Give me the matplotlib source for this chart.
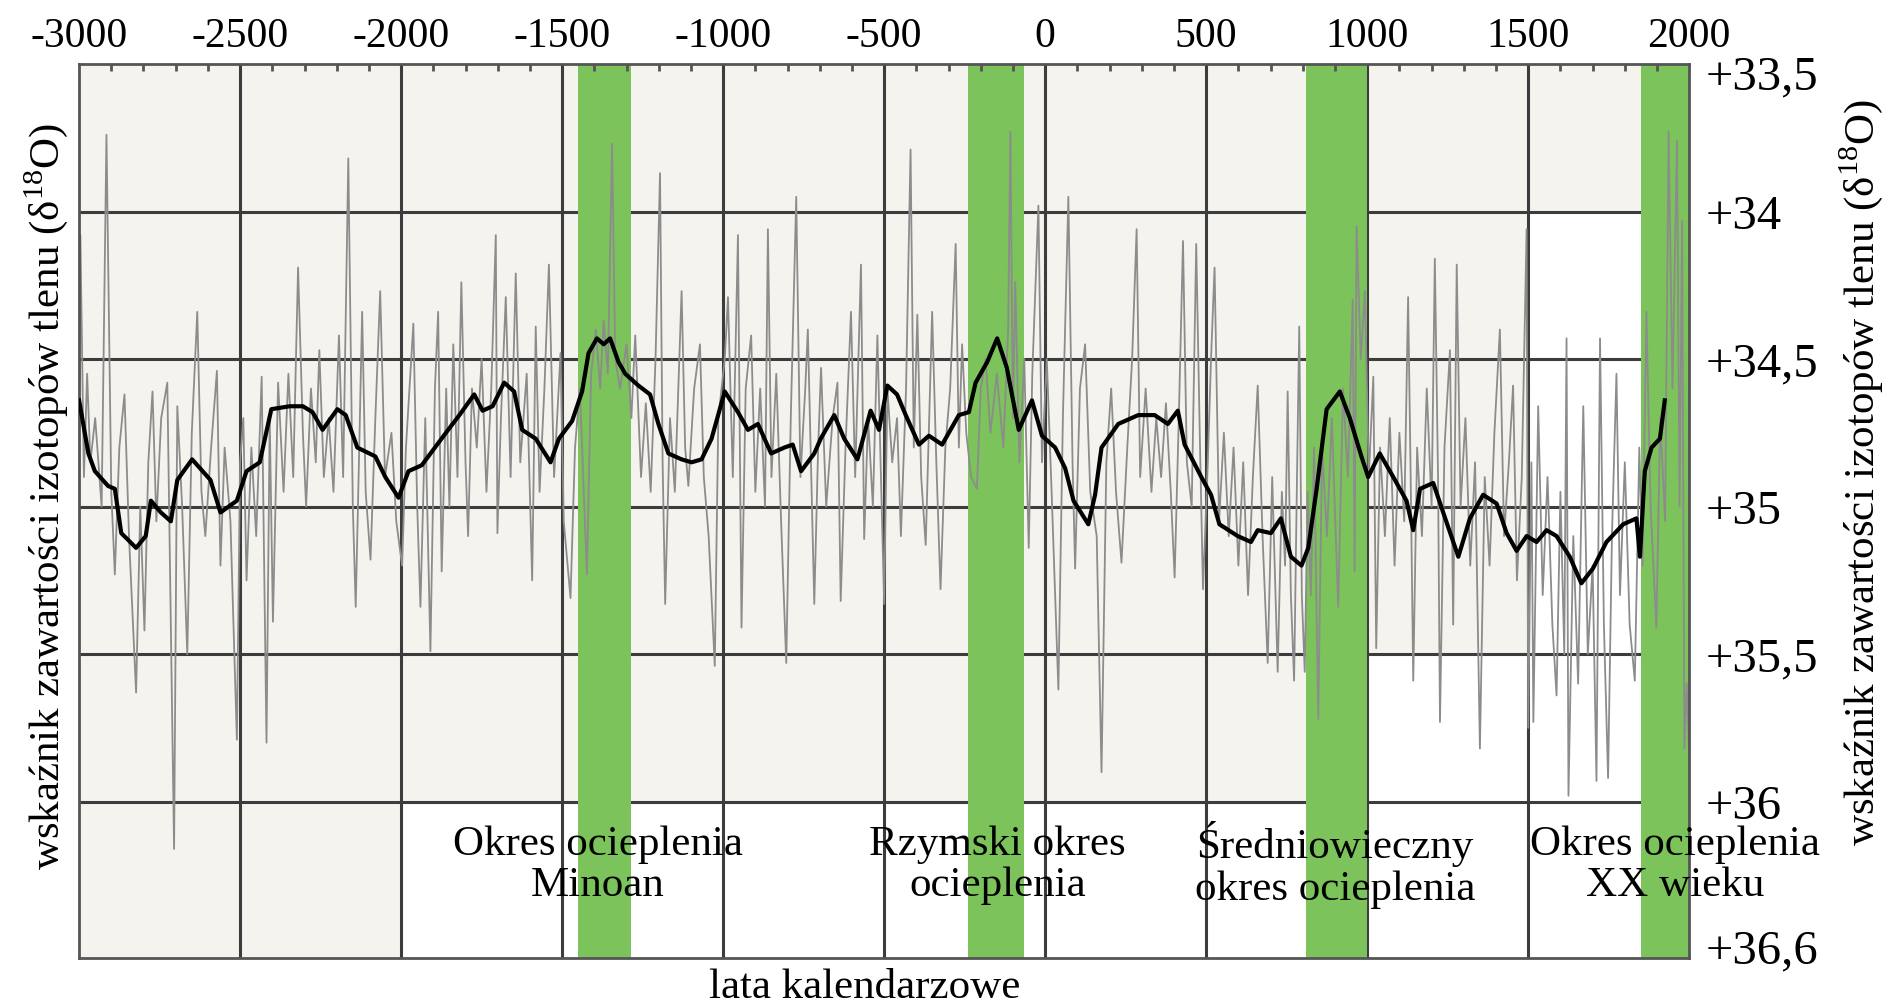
import matplotlib.pyplot as plt
from matplotlib.patches import Rectangle

plt.rcParams['font.family'] = ['Liberation Serif', 'DejaVu Serif']
plt.rcParams['mathtext.fontset'] = 'custom'
plt.rcParams['mathtext.rm'] = 'Liberation Serif'

# smoothed curve (black)
smooth_years = [-3000, -2971, -2951, -2910, -2889, -2869, -2823, -2793, -2777, -2746,
                -2715, -2695, -2649, -2592, -2561, -2510, -2480, -2439, -2403, -2346,
                -2305, -2275, -2244, -2198, -2172, -2136, -2080, -2049, -2008, -1977,
                -1936, -1895, -1854, -1819, -1773, -1747, -1716, -1680, -1649, -1624,
                -1582, -1536, -1510, -1469, -1438, -1418, -1392, -1371, -1351, -1325,
                -1304, -1263, -1227, -1201, -1170, -1129, -1098, -1067, -1036, -995,
                -954, -923, -892, -851, -810, -784, -758, -717, -697, -655,
                -624, -583, -542, -516, -490, -460, -433, -392, -361, -320,
                -268, -237, -216, -180, -149, -119, -82, -41, -10, 31,
                62, 88, 134, 155, 175, 227, 289, 340, 381, 412,
                433, 485, 515, 541, 598, 639, 660, 701, 732, 763,
                796, 817, 843, 874, 915, 946, 982, 1003, 1039, 1081,
                1122, 1143, 1164, 1205, 1236, 1283, 1319, 1360, 1402, 1433,
                1464, 1495, 1526, 1557, 1588, 1629, 1665, 1701, 1743, 1795,
                1836, 1847, 1862, 1883, 1909, 1924]
smooth_vals = [34.64, 34.82, 34.88, 34.93, 34.94, 35.09, 35.14, 35.10, 34.98, 35.02,
               35.05, 34.91, 34.84, 34.91, 35.02, 34.98, 34.88, 34.85, 34.67, 34.66,
               34.66, 34.68, 34.74, 34.67, 34.69, 34.80, 34.83, 34.90, 34.97, 34.88,
               34.86, 34.80, 34.74, 34.69, 34.62, 34.675, 34.66, 34.58, 34.61, 34.74,
               34.77, 34.85, 34.77, 34.71, 34.61, 34.48, 34.43, 34.45, 34.43, 34.51,
               34.55, 34.59, 34.62, 34.72, 34.82, 34.84, 34.85, 34.84, 34.77, 34.61,
               34.68, 34.74, 34.72, 34.82, 34.80, 34.79, 34.88, 34.82, 34.77, 34.69,
               34.77, 34.84, 34.675, 34.74, 34.59, 34.62, 34.69, 34.79, 34.76, 34.79,
               34.69, 34.68, 34.58, 34.51, 34.43, 34.53, 34.74, 34.64, 34.76, 34.80,
               34.87, 34.98, 35.06, 34.96, 34.80, 34.72, 34.69, 34.69, 34.72, 34.675,
               34.79, 34.90, 34.96, 35.06, 35.10, 35.12, 35.08, 35.09, 35.04, 35.17,
               35.20, 35.14, 34.94, 34.67, 34.61, 34.70, 34.83, 34.90, 34.82, 34.90,
               34.98, 35.08, 34.94, 34.92, 35.02, 35.17, 35.04, 34.96, 34.99, 35.09,
               35.15, 35.10, 35.12, 35.08, 35.10, 35.17, 35.26, 35.21, 35.12, 35.06,
               35.04, 35.17, 34.88, 34.80, 34.77, 34.64]

# annual record (grey), peaks and troughs
raw_years = [-3000, -2996, -2985, -2975, -2965, -2950, -2930, -2915, -2900, -2889,
             -2875, -2859, -2845, -2823, -2810, -2797, -2785, -2772, -2760, -2745,
             -2726, -2705, -2695, -2680, -2664, -2650, -2633, -2620, -2608, -2590,
             -2572, -2561, -2548, -2530, -2510, -2500, -2490, -2480, -2465, -2450,
             -2433, -2418, -2408, -2398, -2382, -2365, -2350, -2335, -2320, -2305,
             -2295, -2280, -2265, -2254, -2240, -2225, -2210, -2193, -2180, -2164,
             -2150, -2141, -2130, -2121, -2110, -2095, -2080, -2065, -2050, -2030,
             -2015, -1997, -1985, -1962, -1950, -1940, -1925, -1909, -1895, -1885,
             -1874, -1860, -1850, -1838, -1825, -1813, -1800, -1792, -1780, -1765,
             -1750, -1735, -1720, -1706, -1701, -1690, -1675, -1660, -1644, -1630,
             -1610, -1593, -1582, -1570, -1555, -1541, -1525, -1505, -1495, -1474,
             -1460, -1445, -1423, -1410, -1395, -1382, -1371, -1358, -1345, -1335,
             -1320, -1300, -1285, -1273, -1255, -1240, -1225, -1210, -1196, -1188,
             -1180, -1165, -1150, -1129, -1118, -1108, -1090, -1072, -1060, -1045,
             -1026, -1015, -995, -985, -970, -954, -943, -930, -913, -900,
             -885, -870, -861, -850, -835, -820, -804, -790, -773, -760,
             -745, -737, -717, -705, -696, -680, -660, -645, -635, -620,
             -603, -590, -572, -562, -550, -535, -521, -510, -500, -490,
             -475, -460, -448, -432, -418, -408, -397, -385, -371, -360,
             -351, -338, -325, -310, -295, -278, -268, -258, -245, -230,
             -212, -200, -185, -170, -150, -130, -115, -108, -100, -93,
             -80, -65, -51, -40, -21, -10, 5, 20, 41, 55,
             72, 85, 93, 108, 124, 140, 160, 175, 190, 205,
             220, 237, 255, 270, 284, 295, 312, 330, 345, 360,
             375, 390, 402, 415, 428, 440, 455, 469, 480, 490,
             505, 515, 526, 540, 555, 570, 585, 600, 615, 630,
             645, 660, 675, 691, 705, 722, 735, 745, 753, 763,
             773, 782, 789, 797, 806, 815, 825, 835, 848, 860,
             875, 890, 910, 925, 940, 955, 961, 967, 980, 993,
             1005, 1019, 1028, 1040, 1055, 1070, 1085, 1100, 1115, 1127,
             1135, 1143, 1155, 1170, 1185, 1200, 1210, 1220, 1226, 1240,
             1257, 1267, 1278, 1290, 1305, 1320, 1335, 1350, 1365, 1380,
             1395, 1412, 1425, 1440, 1453, 1465, 1480, 1495, 1500, 1510,
             1516, 1531, 1545, 1560, 1575, 1588, 1600, 1612, 1619, 1625,
             1640, 1655, 1671, 1685, 1700, 1712, 1723, 1735, 1748, 1760,
             1774, 1785, 1800, 1815, 1831, 1845, 1855, 1867, 1880, 1898,
             1910, 1925, 1936, 1948, 1962, 1970, 1978, 1985, 1992, 2000]
raw_vals = [34.60, 34.08, 34.90, 34.55, 34.85, 34.70, 35.00, 33.74, 34.95, 35.23,
            34.80, 34.62, 35.10, 35.63, 35.00, 35.42, 34.85, 34.61, 35.05, 34.70,
            34.58, 36.16, 34.66, 35.00, 35.50, 34.75, 34.34, 34.95, 35.10, 34.80,
            34.54, 35.20, 34.80, 35.05, 35.79, 34.85, 34.70, 35.25, 34.80, 35.10,
            34.56, 35.80, 34.70, 35.39, 34.58, 34.95, 34.55, 34.90, 34.19, 34.75,
            35.00, 34.60, 34.85, 34.47, 34.90, 34.70, 34.95, 34.42, 34.90, 33.82,
            35.00, 35.34, 34.80, 34.34, 34.95, 35.18, 34.70, 34.27, 34.90, 34.75,
            35.05, 35.20, 34.80, 34.38, 35.00, 35.34, 34.70, 35.49, 34.60, 34.34,
            35.22, 34.60, 35.00, 34.45, 34.90, 34.24, 34.85, 35.10, 34.60, 34.80,
            34.50, 34.95, 34.60, 34.08, 35.09, 34.70, 34.29, 34.90, 34.21, 34.85,
            34.55, 35.25, 34.39, 34.95, 34.60, 34.18, 34.90, 34.48, 35.05, 35.31,
            34.80, 34.60, 35.23, 34.55, 34.40, 34.60, 34.37, 34.55, 33.77, 34.50,
            34.60, 34.45, 34.70, 34.42, 34.90, 34.65, 34.95, 34.50, 33.87, 34.85,
            35.33, 34.70, 34.95, 34.27, 34.80, 34.93, 34.60, 34.45, 34.90, 35.10,
            35.54, 34.70, 34.50, 34.29, 34.90, 34.08, 35.41, 34.60, 34.42, 34.95,
            34.60, 35.00, 34.06, 34.90, 34.55, 35.05, 35.53, 34.70, 33.95, 34.90,
            34.60, 34.40, 35.33, 34.80, 34.53, 35.00, 34.70, 34.58, 35.32, 34.80,
            34.34, 34.90, 34.18, 35.11, 34.70, 35.00, 34.42, 34.90, 35.33, 34.60,
            34.85, 34.70, 35.10, 34.60, 33.79, 34.80, 34.35, 34.90, 35.13, 34.70,
            34.34, 34.85, 35.28, 34.80, 34.60, 34.11, 34.80, 34.45, 34.75, 34.90,
            34.94, 34.60, 34.50, 34.75, 34.55, 34.80, 34.40, 33.73, 34.70, 34.24,
            34.85, 34.50, 35.14, 34.55, 33.98, 34.85, 34.50, 34.95, 35.62, 34.70,
            33.95, 34.85, 35.21, 34.60, 34.45, 34.95, 35.10, 35.90, 34.85, 34.60,
            34.95, 35.19, 34.80, 34.50, 34.06, 34.90, 34.60, 34.95, 34.70, 34.90,
            34.65, 34.95, 35.24, 34.70, 34.10, 34.85, 35.00, 34.11, 34.75, 35.28,
            34.85, 34.50, 34.19, 35.05, 34.75, 35.10, 34.80, 35.20, 34.85, 35.30,
            34.90, 34.59, 35.10, 35.53, 34.90, 35.56, 34.95, 35.20, 34.61, 35.30,
            35.59, 34.90, 34.39, 35.30, 35.56, 34.95, 35.30, 34.80, 35.72, 34.80,
            35.10, 34.70, 35.34, 34.60, 34.90, 34.30, 35.22, 34.05, 34.50, 34.27,
            34.90, 34.56, 35.48, 34.80, 35.10, 34.70, 35.20, 34.75, 35.05, 34.29,
            34.90, 35.59, 34.80, 35.10, 34.60, 35.00, 34.16, 34.90, 35.73, 34.80,
            34.47, 35.40, 34.18, 35.00, 34.70, 35.20, 34.85, 35.82, 34.90, 35.20,
            34.75, 34.40, 35.10, 34.85, 34.59, 35.25, 34.90, 34.06, 35.75, 34.85,
            35.73, 34.66, 35.30, 34.90, 35.40, 35.64, 34.95, 35.50, 34.43, 35.98,
            35.10, 35.60, 34.66, 35.50, 35.20, 35.93, 34.43, 35.40, 35.92, 35.10,
            34.55, 35.30, 34.85, 35.40, 35.59, 34.80, 35.20, 34.34, 35.00, 35.41,
            34.70, 35.05, 33.73, 34.60, 33.76, 35.00, 34.03, 35.82, 35.60, 35.85]

# warm periods (start, end) and their labels
warm_periods = [(-1450, -1285), (-240, -65), (810, 1000), (1850, 2000)]
warm_labels = ['Okres ocieplenia\nMinoan', 'Rzymski okres\nocieplenia',
               'Średniowieczny\nokres ocieplenia', 'Okres ocieplenia\nXX wieku']
label_years = [-1390, -148, 900, 1955]

x_ticks = list(range(-3000, 2001, 500))
y_ticks = [33.53, 34, 34.5, 35, 35.5, 36, 36.49]
y_tick_labels = ['+33,5', '+34', '+34,5', '+35', '+35,5', '+36', '+36,6']

fig = plt.figure(figsize=(19.01, 10.06), dpi=100)
ax = fig.add_axes([0.0416, 0.0477, 0.847, 0.8887])
ax.set_facecolor('#f5f3ee')

# white parts of the paper background
for x0, x1, y0, y1 in [(-2000, 2000, 36, 36.53), (1500, 1850, 34, 36), (1000, 1500, 35.5, 36)]:
    ax.add_patch(Rectangle((x0, y0), x1 - x0, y1 - y0, facecolor='white',
                           edgecolor='none', zorder=0.2))

for x in x_ticks[1:-1]:
    ax.axvline(x, color='#3c3c3c', lw=2.2, zorder=0.5)
for y in [34, 34.5, 35, 35.5, 36]:
    ax.axhline(y, color='#3c3c3c', lw=2.2, zorder=0.5)

for x0, x1 in warm_periods:
    ax.axvspan(x0, x1, color='#7cc35b', lw=0, zorder=1)

ax.plot(raw_years, raw_vals, color='#8c8c8c', lw=1.3, zorder=2)
ax.plot(smooth_years, smooth_vals, color='black', lw=3.0, zorder=3)

for name, xc in zip(warm_labels, label_years):
    ax.text(xc, 36.215, name, ha='center', va='center', fontsize=31,
            linespacing=1.1, zorder=4)

ax.set_xlim(-3000, 2000)
ax.set_ylim(36.53, 33.5)

ax.xaxis.tick_top()
ax.set_xticks(x_ticks)
ax.set_xticklabels([str(v) for v in x_ticks], fontsize=30)
ax.set_xticks(range(-3000, 2001, 100), minor=True)
ax.tick_params(axis='x', which='major', length=0, pad=6)
ax.tick_params(axis='x', which='minor', direction='in', length=5, width=2,
               color='#555555', top=True, bottom=False)

ax.yaxis.tick_right()
ax.set_yticks(y_ticks)
ax.set_yticklabels(y_tick_labels, fontsize=35)
ax.tick_params(axis='y', length=0, pad=12)

for s in ax.spines.values():
    s.set_color('#555555')
    s.set_linewidth(2)

ylab = 'wskaźnik zawartości izotopów tlenu (δ$^{18}$O)'
fig.text(0.024, 0.506, ylab, rotation=90, ha='center', va='center', fontsize=31)
fig.text(0.979, 0.53, ylab, rotation=90, ha='center', va='center', fontsize=31)
fig.text(0.455, 0.018, 'lata kalendarzowe', ha='center', va='center', fontsize=31)

fig.savefig('out.png', dpi=100, facecolor='white')
